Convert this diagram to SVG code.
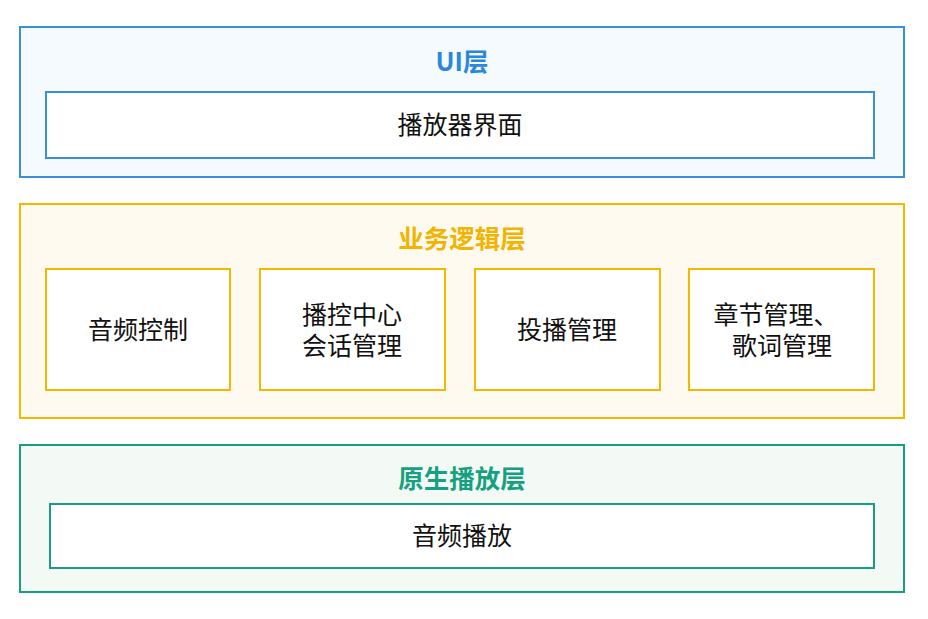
<svg xmlns="http://www.w3.org/2000/svg" width="928" height="619" viewBox="0 0 928 619">
<style>
text{font-family:"Noto Sans CJK SC","Liberation Sans",sans-serif;text-anchor:middle;dominant-baseline:central}
.t{font-size:25.5px;font-weight:bold}
.n{font-size:25px;fill:#111}
.box{fill:#fff;stroke-width:2}
</style>
<rect width="928" height="619" fill="#fff"/>
<g id="ui-layer">
<rect x="20" y="27" width="884" height="150" fill="#f5fafe" stroke="#3a8fd9" stroke-width="2"/>
<text class="t" x="462" y="59" fill="#2b87da">UI层</text>
</g>
<g id="ui-player"><rect class="box" x="46" y="92" width="828" height="66" stroke="#3a8fd9"/><text class="n" x="460" y="123">播放器界面</text></g>
<g id="biz-layer">
<rect x="20" y="204" width="884" height="214" fill="#fffaf0" stroke="#f5b800" stroke-width="2"/>
<text class="t" x="462" y="236" fill="#f2b400">业务逻辑层</text>
</g>
<g id="audio-ctrl"><rect class="box" x="46" y="269" width="184" height="121" stroke="#f5b800"/><text class="n" x="138" y="328">音频控制</text></g>
<g id="session"><rect class="box" x="260" y="269" width="185" height="121" stroke="#f5b800"/><text class="n" x="352" y="313">播控中心</text><text class="n" x="352" y="344">会话管理</text></g>
<g id="cast"><rect class="box" x="475" y="269" width="185" height="121" stroke="#f5b800"/><text class="n" x="567" y="328">投播管理</text></g>
<g id="chapter"><rect class="box" x="689" y="269" width="185" height="121" stroke="#f5b800"/><text class="n" x="776" y="313">章节管理、</text><text class="n" x="782" y="344">歌词管理</text></g>
<g id="native-layer">
<rect x="20" y="445" width="884" height="147" fill="#f3faf6" stroke="#1a9e80" stroke-width="2"/>
<text class="t" x="462" y="476" fill="#17a07f">原生播放层</text>
</g>
<g id="audio-play"><rect class="box" x="50" y="504" width="824" height="64" stroke="#1a9e80"/><text class="n" x="462" y="534">音频播放</text></g>
<g id="connectors"></g>
</svg>
